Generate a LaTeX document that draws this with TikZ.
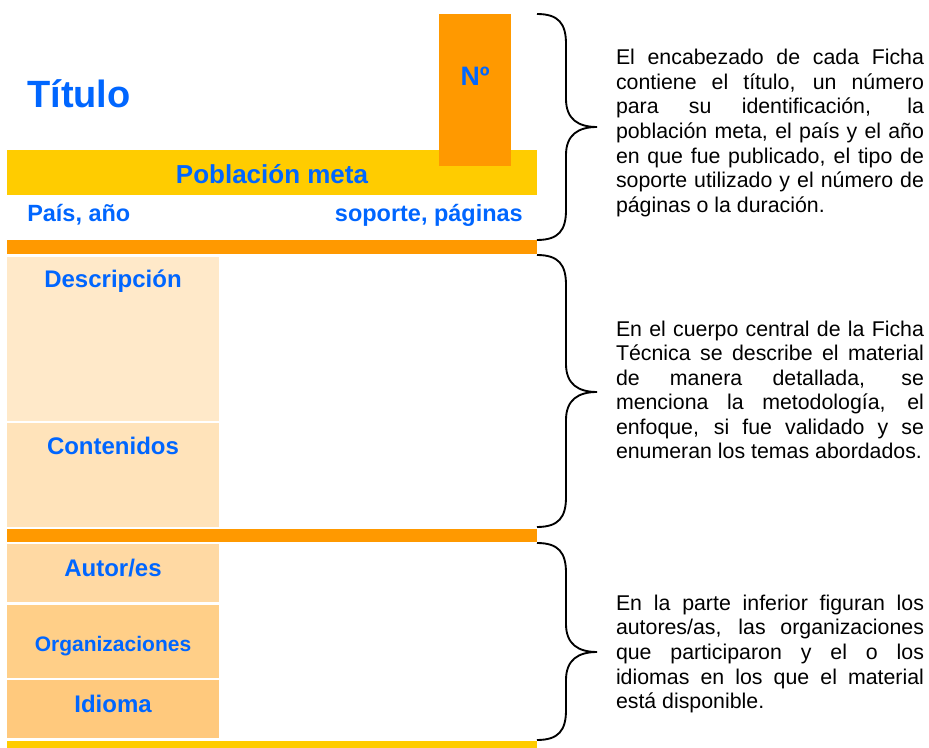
\documentclass[tikz,border=0pt]{standalone}
\usepackage{fontspec}
\setmainfont{Liberation Sans}
\definecolor{fichaorange}{HTML}{FF9900}
\definecolor{fichayellow}{HTML}{FFCC00}
\definecolor{fichablue}{HTML}{0066FF}
\definecolor{cellA}{HTML}{FFE9C9}
\definecolor{cellB}{HTML}{FFE3BA}
\definecolor{cellC}{HTML}{FFD9A3}
\definecolor{cellD}{HTML}{FFCF88}
\definecolor{cellE}{HTML}{FFC97D}
\newcommand{\fichabrace}[3]{%
  \draw[bracestyle] (537,#1) .. controls (559,#1) and (566,{#1+10}) .. (566,{#1+30})
    -- (566,{#2-28}) .. controls (566,{#2-8}) and (578,#2) .. (597,#2)
    .. controls (578,#2) and (566,{#2+8}) .. (566,{#2+28})
    -- (566,{#3-30}) .. controls (566,{#3-10}) and (559,#3) .. (537,#3);}
\begin{document}
\hyphenpenalty=10000
\exhyphenpenalty=10000
\begin{tikzpicture}[x=0.75pt,y=-0.75pt,
  lbl/.style={inner sep=0pt, text=fichablue, font=\bfseries\fontsize{18pt}{21pt}\selectfont},
  para/.style={inner sep=0pt, text width=231pt, align=justify,
    font=\fontsize{16pt}{18.4pt}\selectfont},
  bracestyle/.style={line width=1.4pt, black}]
\useasboundingbox (0,0) rectangle (929,748);
\fill[white] (0,0) rectangle (929,748);
% header
\fill[fichayellow] (7,150) rectangle (537,195);
\fill[fichaorange] (439,14) rectangle (511,166);
\fill[fichaorange] (7,240) rectangle (537,254);
% body cells
\fill[cellA] (7,257) rectangle (219,421);
\fill[cellB] (7,423) rectangle (219,527);
\fill[fichaorange] (7,529) rectangle (537,542);
\fill[cellC] (7,544) rectangle (219,602);
\fill[cellD] (7,605) rectangle (219,678);
\fill[cellE] (7,680) rectangle (219,738);
\fill[fichayellow] (7,741) rectangle (537,748);
% labels
\node[lbl, anchor=base west, font=\bfseries\fontsize{28.5pt}{32pt}\selectfont] (titulo) at (27,108) {Título};
\node[lbl, anchor=base, font=\bfseries\fontsize{20pt}{24pt}\selectfont] (numero) at (475,86) {Nº};
\node[lbl, anchor=base, font=\bfseries\fontsize{19.5pt}{23pt}\selectfont] (poblacion) at (272,184) {Población meta};
\node[lbl, anchor=base west, font=\bfseries\fontsize{17.6pt}{21pt}\selectfont] (pais) at (27,222) {País, año};
\node[lbl, anchor=base east, font=\bfseries\fontsize{17.6pt}{21pt}\selectfont] (soporte) at (523,222) {soporte, páginas};
\node[lbl, anchor=base] (descripcion) at (113,288) {Descripción};
\node[lbl, anchor=base] (contenidos) at (113,455) {Contenidos};
\node[lbl, anchor=base] (autores) at (113,576) {Autor/es};
\node[lbl, anchor=base, font=\bfseries\fontsize{15.75pt}{19pt}\selectfont] (organizaciones) at (113,652) {Organizaciones};
\node[lbl, anchor=base] (idioma) at (113,712) {Idioma};
% braces
\fichabrace{14}{127}{240}
\fichabrace{255}{392}{527}
\fichabrace{543}{652}{740}
% explanations
\node[para] (encabezado) at (770,133) {El encabezado de cada Ficha\linebreak contiene el título, un número\linebreak para su identificación, la\linebreak población meta, el país y el año\linebreak en que fue publicado, el tipo de\linebreak soporte utilizado y el número de\linebreak páginas o la duración.};
\node[para] (cuerpo) at (770,390) {En el cuerpo central de la Ficha\linebreak Técnica se describe el material\linebreak de manera detallada, se\linebreak menciona la metodología, el\linebreak enfoque, si fue validado y se\linebreak enumeran los temas abordados.};
\node[para] (inferior) at (770,654) {En la parte inferior figuran los\linebreak autores/as, las organizaciones\linebreak que participaron y el o los\linebreak idiomas en los que el material\linebreak está disponible.};
\end{tikzpicture}
\end{document}
